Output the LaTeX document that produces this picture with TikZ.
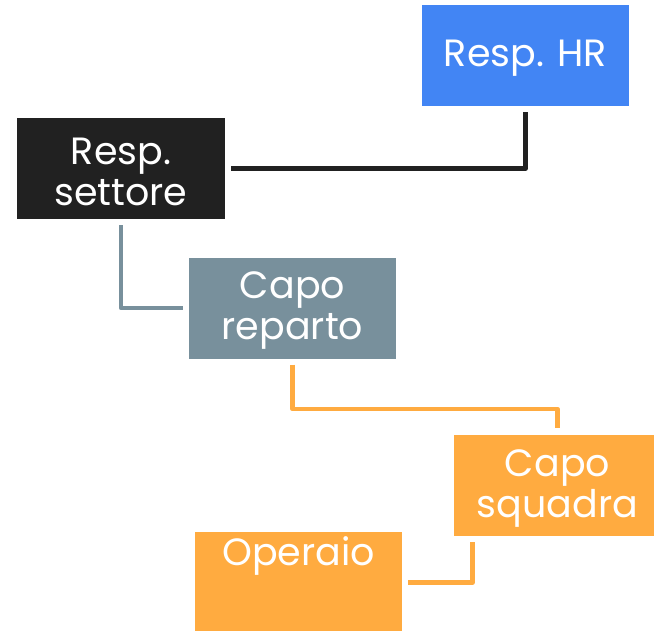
\documentclass[tikz,border=0pt]{standalone}
\usepackage{fontspec}
\setmainfont{Poppins}
\usetikzlibrary{calc}
\definecolor{hrblue}{HTML}{4285F4}
\definecolor{darkbox}{HTML}{212121}
\definecolor{greybox}{HTML}{78909C}
\definecolor{orangebox}{HTML}{FFAB40}
\tikzset{
  lab/.style={text=white, align=center, inner sep=0pt, yshift=-3bp,
    font=\fontsize{38bp}{41bp}\selectfont},
  box/.style={rectangle, inner sep=0pt, minimum width=207bp, minimum height=101bp},
  conn/.style={line width=4.8bp, line join=round}
}
\begin{document}
\begin{tikzpicture}[x=1bp, y=-1bp]
\useasboundingbox (0,0) rectangle (654,631);
\clip (0,0) rectangle (654,631);
\node[box, fill=hrblue, label={[lab]center:Resp. HR}] (hr) at (525.5,55.5) {};
\node[box, fill=darkbox, label={[lab]center:Resp.\\settore}] (settore) at (121,168.5) {};
\node[box, fill=greybox, label={[lab]center:Capo\\reparto}] (reparto) at (292.5,308) {};
\node[box, fill=orangebox, label={[lab]center:Capo\\squadra}] (squadra) at (557.5,485.5) {};
\node[box, fill=orangebox] (operaio) at (298.5,582.5) {};
\node[text=white, font=\fontsize{38bp}{41bp}\selectfont, anchor=base, inner sep=0pt] (operaiotext) at (298.5,565) {Operaio};
\draw[conn, darkbox] ($(hr.south)+(0,6)$) |- ($(settore.east)+(6,0)$);
\draw[conn, greybox] ($(settore.south)+(0,6)$) |- ($(reparto.west)+(-6,0)$);
\coordinate (bend) at (557.5,409);
\draw[conn, orangebox] ($(reparto.south)+(0,6)$) |- (bend) -- ($(squadra.north)+(0,-7)$);
\draw[conn, orangebox] ($(squadra.south west)+(18.5,6)$) |- ($(operaio.east)+(6,0)$);
\end{tikzpicture}
\end{document}
